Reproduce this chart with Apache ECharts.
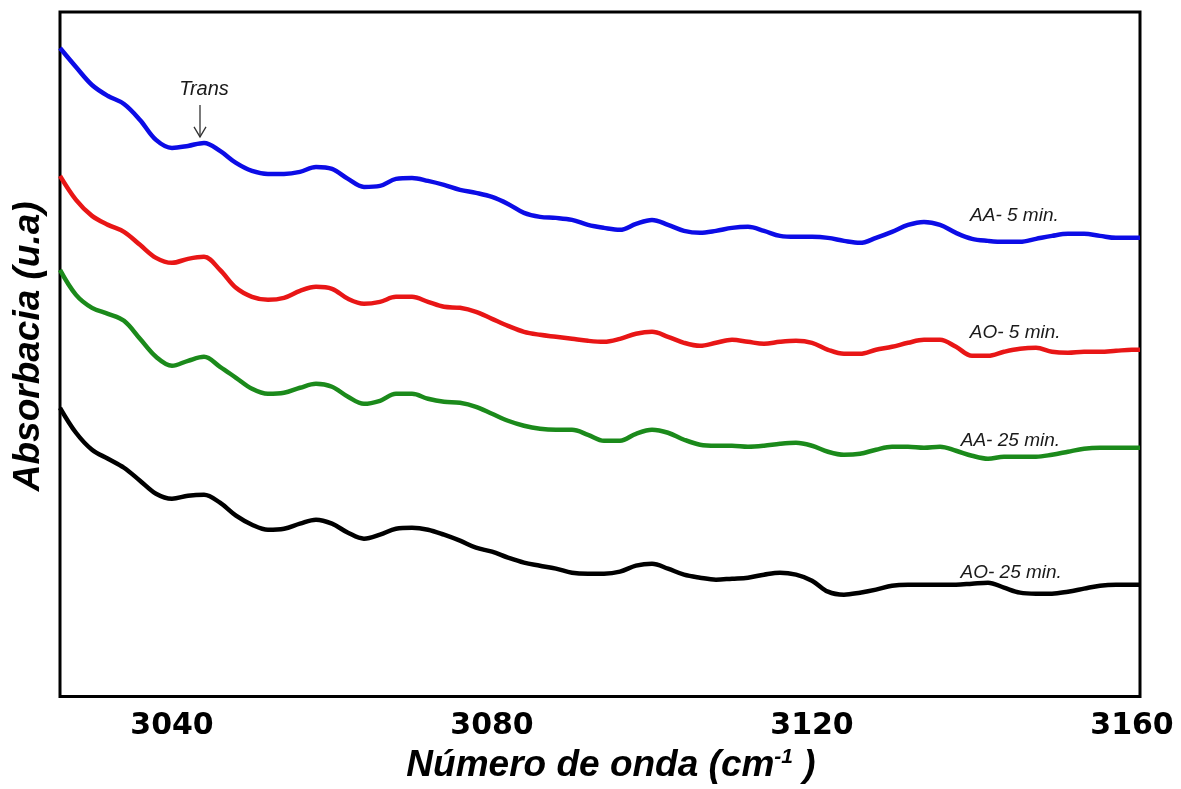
<!DOCTYPE html>
<html>
<head>
<meta charset="utf-8">
<script src="https://cdn.jsdelivr.net/npm/echarts@6/dist/echarts.min.js"></script>
<style>
  html, body { margin: 0; padding: 0; background: #fff; }
  #chart { width: 1181px; height: 789px; }
</style>
</head>
<body>
<div id="chart"></div>
<script>
// wavenumber (cm-1)
const wavenumbers = [
  3026, 3028, 3030, 3032, 3034, 3036, 3038, 3040, 3042, 3044,
  3046, 3048, 3050, 3052, 3054, 3056, 3058, 3060, 3062, 3064,
  3066, 3068, 3070, 3072, 3074, 3076, 3078, 3080, 3082, 3084,
  3086, 3088, 3090, 3092, 3094, 3096, 3098, 3100, 3102, 3104,
  3106, 3108, 3110, 3112, 3114, 3116, 3118, 3120, 3122, 3124,
  3126, 3128, 3130, 3132, 3134, 3136, 3138, 3140, 3142, 3144,
  3146, 3148, 3150, 3152, 3154, 3156, 3158, 3160, 3161
];

// absorbance (u.a), stacked offsets as in the figure
const aa5 = [
  652, 633, 615, 604, 596, 580, 560, 552, 554, 557,
  549, 537, 529, 526, 526, 528, 533, 531, 521, 513,
  514, 521, 522, 519, 515, 510, 507, 503, 496, 487,
  483, 482, 480, 475, 472, 470, 476, 480, 475, 469,
  467, 469, 472, 473, 469, 464, 463, 463, 462, 459,
  457, 462, 468, 475, 478, 475, 467, 461, 459, 458,
  458, 461, 464, 466, 466, 464, 462, 462, 462
];
const ao5 = [
  524, 500, 484, 475, 468, 455, 442, 437, 441, 443,
  430, 412, 403, 400, 402, 409, 413, 411, 401, 396,
  398, 403, 403, 398, 393, 392, 388, 381, 374, 368,
  365, 363, 361, 359, 358, 361, 366, 368, 363, 357,
  354, 357, 360, 358, 356, 358, 359, 357, 350, 346,
  346, 350, 353, 357, 360, 360, 353, 344, 344, 348,
  351, 352, 348, 347, 348, 348, 349, 350, 350
];
const aa25 = [
  430, 405, 392, 386, 379, 361, 343, 334, 339, 343,
  333, 322, 311, 306, 307, 312, 316, 313, 303, 296,
  299, 306, 306, 301, 298, 297, 293, 286, 279, 274,
  271, 270, 270, 265, 259, 259, 266, 270, 267, 260,
  255, 254, 254, 253, 254, 256, 257, 254, 248, 245,
  246, 250, 253, 253, 252, 253, 249, 244, 241, 243,
  243, 243, 245, 248, 251, 252, 252, 252, 252
];
const ao25 = [
  292, 267, 250, 241, 232, 219, 206, 201, 204, 205,
  197, 184, 175, 170, 171, 176, 180, 176, 167, 161,
  165, 171, 172, 170, 165, 159, 152, 148, 142, 137,
  134, 131, 127, 126, 126, 128, 134, 136, 131, 125,
  122, 120, 121, 122, 125, 127, 125, 119, 108, 105,
  107, 110, 114, 115, 115, 115, 115, 116, 117, 112,
  107, 106, 106, 108, 111, 114, 115, 115, 115
];

const xTicks = [3040, 3080, 3120, 3160];
const seriesNames = ['AA- 5 min.', 'AO- 5 min.', 'AA- 25 min.', 'AO- 25 min.'];
const seriesColors = ['#0c0ce6', '#e81616', '#1b8a1b', '#000000'];
const seriesValues = [aa5, ao5, aa25, ao25];
// where each curve's tag sits (wavenumber, absorbance)
const tagAt = [[3145.3, 484], [3145.4, 367], [3144.8, 259], [3144.9, 127]];

const FONT = '"Liberation Sans", Arial, sans-serif';

const chart = echarts.init(document.getElementById('chart'));

const option = {
    animation: false,
    backgroundColor: '#fff',
    grid: {
        left: 60, right: 41, top: 12, bottom: 92,
        show: true, borderColor: '#000', borderWidth: 3, backgroundColor: 'transparent'
    },
    xAxis: {
        type: 'value',
        min: 3026,
        max: 3161,
        name: 'Número de onda (cm{sup|-1} )',
        nameLocation: 'middle',
        nameGap: 45,
        nameTextStyle: {
            fontFamily: FONT, fontSize: 37, fontWeight: 'bold', fontStyle: 'italic', color: '#000',
            padding: [0, 0, 0, 22],
            rich: {
                sup: { fontFamily: FONT, fontSize: 21, fontWeight: 'bold', fontStyle: 'italic',
                       color: '#000', padding: [0, 0, 17, 0] }
            }
        },
        axisLine: { show: false },
        axisTick: { show: false },
        splitLine: { show: false },
        axisLabel: {
            customValues: xTicks,
            formatter: v => String(v),
            margin: 15,
            fontFamily: '"DejaVu Sans", sans-serif', fontSize: 30, fontWeight: 'bold', color: '#000'
        }
    },
    yAxis: {
        type: 'value',
        min: 3,
        max: 688,
        name: 'Absorbacia (u.a)',
        nameLocation: 'middle',
        nameGap: 13,
        nameTextStyle: {
            fontFamily: FONT, fontSize: 37, fontWeight: 'bold', fontStyle: 'italic', color: '#000',
            padding: [0, 0, 0, 16]
        },
        axisLine: { show: false },
        axisTick: { show: false },
        axisLabel: { show: false },
        splitLine: { show: false }
    },
    series: seriesValues.map((vals, k) => ({
        name: seriesNames[k],
        type: 'line',
        data: wavenumbers.map((w, i) => [w, vals[i]]),
        smooth: 0.35,
        showSymbol: false,
        lineStyle: { color: seriesColors[k], width: 4.5 },
        itemStyle: { color: seriesColors[k] },
        markPoint: {
            symbol: 'circle',
            symbolSize: 0,
            silent: true,
            label: {
                show: true, position: 'inside', formatter: seriesNames[k],
                fontFamily: FONT, fontSize: 19, fontStyle: 'italic', color: '#1a1a1a'
            },
            data: [{ coord: tagAt[k] }]
        }
    })).concat([{
        type: 'line',
        data: [],
        markPoint: {
            symbol: 'circle',
            symbolSize: 0,
            silent: true,
            label: {
                show: true, position: 'inside', formatter: 'Trans',
                fontFamily: FONT, fontSize: 20, fontStyle: 'italic', color: '#1a1a1a'
            },
            data: [{ coord: [3044, 611] }]
        }
    }])
};

chart.setOption(option);

// arrow under "Trans"
const tail = chart.convertToPixel({ gridIndex: 0 }, [3043.5, 595]);
const tip = chart.convertToPixel({ gridIndex: 0 }, [3043.5, 563]);
chart.setOption({
    graphic: [
        { type: 'polyline', shape: { points: [tail, tip] }, style: { stroke: '#333', lineWidth: 1.3, fill: null } },
        { type: 'polyline', shape: { points: [[tip[0] - 6, tip[1] - 10], tip, [tip[0] + 6, tip[1] - 10]] },
          style: { stroke: '#333', lineWidth: 1.3, fill: null } }
    ]
});
</script>
</body>
</html>
